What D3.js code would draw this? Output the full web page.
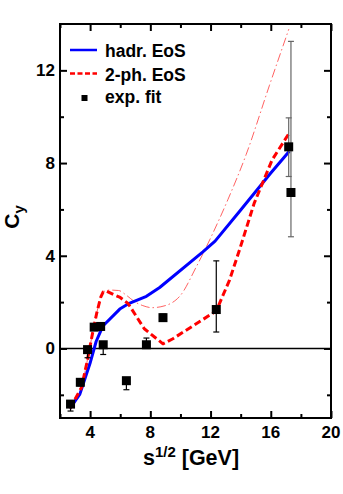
<!DOCTYPE html>
<html>
<head>
<meta charset="utf-8">
<script src="https://cdn.jsdelivr.net/npm/d3@7"></script>
<style>
  body { margin: 0; background: #fff; }
  text { font-family: "Liberation Sans", Arial, sans-serif; font-weight: bold; fill: #000; }
</style>
</head>
<body>
<div id="chart"></div>
<script>
// hadr. EoS (blue solid)
var hadrX = [2.66, 3.32, 3.99, 4.4, 4.7, 4.9, 5.97, 6.6, 7.74, 8.62, 11.49, 12.3, 13.92, 16.0, 17.23];
var hadrY = [-2.59, -1.97, -0.65, 0.3, 0.75, 1.0, 1.7, 1.95, 2.25, 2.63, 4.17, 4.63, 5.91, 7.57, 8.51];

// 2-ph. EoS (red dashed)
var twoPhX = [2.66, 3.43, 3.77, 4.2, 4.43, 4.7, 4.87, 5.1, 5.64, 6.0, 6.52, 7.6, 8.84, 9.5, 12.38, 13.26, 13.92, 14.9, 16.1, 17.23];
var twoPhY = [-2.59, -1.68, -0.66, 0.78, 1.5, 2.2, 2.44, 2.47, 2.3, 2.2, 1.94, 0.85, 0.2, 0.42, 1.62, 2.95, 4.25, 6.27, 8.15, 9.3];

// thin dash-dot red curve
var thinX = [2.66, 3.43, 3.77, 4.2, 4.43, 4.87, 5.3, 5.9, 6.4, 7.0, 7.5, 8.1, 8.7, 9.95, 11.05, 12.15, 13.15, 14.36, 15.9, 17.2];
var thinY = [-2.59, -1.68, -0.66, 0.78, 1.5, 2.44, 2.52, 2.5, 2.3, 2.0, 1.85, 1.76, 1.8, 2.25, 3.52, 4.97, 6.42, 8.36, 11.33, 13.78];

// exp. fit points with asymmetric errors
var expX  = [2.7, 3.35, 3.83, 4.27, 4.7, 4.87, 6.41, 7.74, 8.84, 12.38, 17.19, 17.34];
var expY  = [-2.4, -1.46, -0.05, 0.92, 0.95, 0.16, -1.39, 0.16, 1.33, 1.68, 8.7, 6.73];
var errLo = [0.3, 0.15, 0.35, 0.1, 0.15, 0.42, 0.39, 0.05, 0.15, 0.97, 1.28, 1.91];
var errHi = [0.1, 0.15, 0.1, 0.1, 0.15, 0.1, 0.05, 0.29, 0.15, 2.1, 1.25, 6.52];
var errGray = [false, false, false, false, false, false, false, false, false, false, true, true];

var xMajor = [4, 8, 12, 16, 20];
var xMinor = [2, 6, 10, 14, 18];
var yMajor = [0, 4, 8, 12];
var yMinor = [-2, 2, 6, 10];

var width = 343, height = 494;
var padL = 60, padT = 24, pw = 271, ph = 394;

var svg = d3.select("#chart").append("svg")
  .attr("width", width)
  .attr("height", height);

var x = d3.scaleLinear().domain([2, 20]).range([0, pw]);
var y = d3.scaleLinear().domain([-3, 14]).range([ph, 0]);

var g = svg.append("g").attr("transform", "translate(" + padL + "," + padT + ")");

g.append("clipPath").attr("id", "clip")
  .append("rect").attr("width", pw).attr("height", ph);

// zero line
g.append("line")
  .attr("x1", 0).attr("x2", pw)
  .attr("y1", y(0)).attr("y2", y(0))
  .attr("stroke", "#000").attr("stroke-width", 1.5);

// curves
function toPts(xs, ys) {
  return xs.map(function(v, i) { return [v, ys[i]]; });
}
var smooth = d3.line()
  .x(function(d) { return x(d[0]); })
  .y(function(d) { return y(d[1]); })
  .curve(d3.curveMonotoneX);
var straight = d3.line()
  .x(function(d) { return x(d[0]); })
  .y(function(d) { return y(d[1]); });

var curves = g.append("g").attr("clip-path", "url(#clip)");

curves.append("path")
  .attr("d", smooth(toPts(thinX, thinY)))
  .attr("fill", "none")
  .attr("stroke", "#ff5050")
  .attr("stroke-width", 0.9)
  .attr("stroke-dasharray", "9,3,1.5,3");

curves.append("path")
  .attr("d", straight(toPts(hadrX, hadrY)))
  .attr("fill", "none")
  .attr("stroke", "#0000ff")
  .attr("stroke-width", 3)
  .attr("stroke-linejoin", "round");

curves.append("path")
  .attr("d", straight(toPts(twoPhX, twoPhY)))
  .attr("fill", "none")
  .attr("stroke", "#ff0000")
  .attr("stroke-width", 3)
  .attr("stroke-linejoin", "round")
  .attr("stroke-dasharray", "7,3.5");

// error bars
var pts = g.append("g");
expX.forEach(function(v, i) {
  var col = errGray[i] ? "#666" : "#000";
  var cx = x(v);
  var yl = y(expY[i] - errLo[i]), yh = y(expY[i] + errHi[i]);
  pts.append("line").attr("x1", cx).attr("x2", cx).attr("y1", yl).attr("y2", yh)
    .attr("stroke", col).attr("stroke-width", 1.2);
  [yl, yh].forEach(function(yy) {
    pts.append("line").attr("x1", cx - 3).attr("x2", cx + 3).attr("y1", yy).attr("y2", yy)
      .attr("stroke", col).attr("stroke-width", 1.2);
  });
});
expX.forEach(function(v, i) {
  pts.append("rect")
    .attr("x", x(v) - 4.5).attr("y", y(expY[i]) - 4.5)
    .attr("width", 9).attr("height", 9)
    .attr("fill", "#000");
});

// frame
g.append("rect").attr("width", pw).attr("height", ph)
  .attr("fill", "none").attr("stroke", "#000").attr("stroke-width", 2);

// ticks (inward, all sides)
var axB = d3.axisBottom(x).tickValues(xMajor).tickSize(-7).tickFormat("");
var axBm = d3.axisBottom(x).tickValues(xMinor).tickSize(-4).tickFormat("");
var axT = d3.axisTop(x).tickValues(xMajor).tickSize(-7).tickFormat("");
var axTm = d3.axisTop(x).tickValues(xMinor).tickSize(-4).tickFormat("");
var axL = d3.axisLeft(y).tickValues(yMajor).tickSize(-7).tickFormat("");
var axLm = d3.axisLeft(y).tickValues(yMinor).tickSize(-4).tickFormat("");
var axR = d3.axisRight(y).tickValues(yMajor).tickSize(-7).tickFormat("");
var axRm = d3.axisRight(y).tickValues(yMinor).tickSize(-4).tickFormat("");

[[axB, ph, 0], [axBm, ph, 0], [axT, 0, 0], [axTm, 0, 0],
 [axL, 0, 0], [axLm, 0, 0], [axR, 0, pw], [axRm, 0, pw]].forEach(function(a) {
  var ag = g.append("g").attr("transform", "translate(" + a[2] + "," + a[1] + ")").call(a[0]);
  ag.select(".domain").remove();
  ag.selectAll(".tick line").attr("stroke", "#000").attr("stroke-width", 2);
});

// tick labels
xMajor.forEach(function(v) {
  g.append("text").attr("x", x(v)).attr("y", ph + 20)
    .attr("text-anchor", "middle").attr("font-size", 17).text(v);
});
yMajor.forEach(function(v) {
  g.append("text").attr("x", -5).attr("y", y(v) + 6)
    .attr("text-anchor", "end").attr("font-size", 17).text(v);
});

// axis titles
var xt = svg.append("text").attr("x", 191).attr("y", 465)
  .attr("text-anchor", "middle").attr("font-size", 21.5);
xt.append("tspan").text("s");
xt.append("tspan").attr("font-size", 15).attr("dy", -8).text("1/2");
xt.append("tspan").attr("dy", 8).text(" [GeV]");

var yt = svg.append("text")
  .attr("transform", "translate(19,217) rotate(-90)")
  .attr("text-anchor", "middle").attr("font-size", 21);
yt.append("tspan").text("C");
yt.append("tspan").attr("font-size", 15).attr("dy", 5).text("y");

// legend
var lg = svg.append("g");
lg.append("line").attr("x1", 70).attr("x2", 97).attr("y1", 50).attr("y2", 50)
  .attr("stroke", "#0000ff").attr("stroke-width", 2.5);
lg.append("text").attr("x", 105).attr("y", 57).attr("font-size", 17.5).text("hadr. EoS");
lg.append("line").attr("x1", 70).attr("x2", 97).attr("y1", 73.5).attr("y2", 73.5)
  .attr("stroke", "#ff0000").attr("stroke-width", 2.5).attr("stroke-dasharray", "5,2.5");
lg.append("text").attr("x", 105).attr("y", 80.5).attr("font-size", 17.5).text("2-ph. EoS");
lg.append("rect").attr("x", 81.5).attr("y", 95).attr("width", 6).attr("height", 6).attr("fill", "#000");
lg.append("text").attr("x", 105).attr("y", 103).attr("font-size", 17.5).text("exp. fit");
</script>
</body>
</html>
